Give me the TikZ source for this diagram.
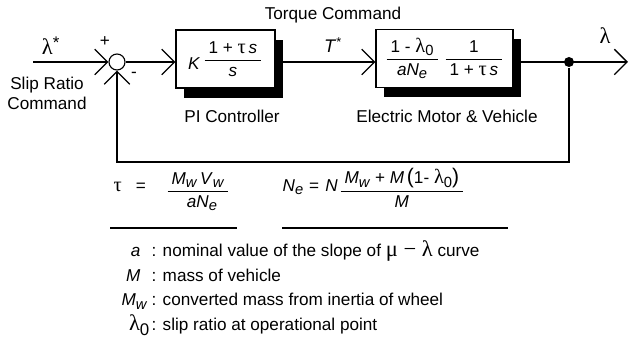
\documentclass[tikz,border=0pt]{standalone}
\usepackage{fontspec}
\setmainfont{Liberation Sans}
\newfontfamily\grk{Liberation Serif}
\usepackage{amsmath}
\usetikzlibrary{arrows.meta,shadows}
\newcommand{\lam}{{\grk\fontsize{14.5}{15}\selectfont λ}}
\newcommand{\ta}{{\grk\fontsize{14.5}{15}\selectfont τ}}
\newcommand{\sub}[1]{\raisebox{-0.35ex}{\fontsize{10.5}{11}\selectfont #1}}
\newcommand{\fr}[2]{\genfrac{}{}{0.7pt}{0}{\text{\hspace{1mm}#1\hspace{1mm}}}{\text{\hspace{1mm}#2\hspace{1mm}}}}

\begin{document}
\begin{tikzpicture}[x=0.25mm, y=-0.25mm, line width=0.9pt,
  every node/.style={font=\fontsize{12.2}{14.6}\selectfont, inner sep=0pt},
  blk/.style={draw, fill=white, line width=0.8pt, minimum height=14.5mm,
    drop shadow={shadow xshift=2mm, shadow yshift=-2.5mm, fill=black, opacity=1}},
  arr/.style={-{Straight Barb[length=3.2mm, width=6.4mm]}}]
  \useasboundingbox (0,0) rectangle (631,344);
  % loop blocks
  \node[circle, draw, line width=0.8pt, minimum size=4mm] (sum) at (117,62) {};
  \node[blk, minimum width=24.75mm] (pi) at (225.5,59)
    {$\text{\raisebox{-1.2mm}{\textit{K}}}\,\fr{1 + \ta\,\textit{s}}{\textit{s}}$};
  \node[blk, minimum width=34.25mm] (plant) at (444.5,58.5)
    {$\fr{1 - \lam\sub{0}}{\textit{a}\textit{N}\sub{\textit{e}}}\;\fr{1}{1 + \ta\,\textit{s}}$};
  \node[circle, fill, minimum size=2.5mm] (tap) at (569,62) {};
  \coordinate (in) at (33,62);
  \coordinate (out) at (628,62);
  \coordinate (fb) at (569,162);
  % connectors
  \draw[arr] (in) -- (sum.west);
  \draw[arr] (sum.east) -- (pi.west |- sum);
  \draw[arr] (pi.east |- sum) -- (plant.west |- sum);
  \draw[arr] (plant.east |- sum) -- (out);
  \draw[arr] (tap) -- (fb) -| (sum.south);
  % signal labels
  \node (lref) at (51,46) {{\grk\fontsize{16}{16}\selectfont λ}\textsuperscript{\fontsize{12}{12}\selectfont *}};
  \node (plus) at (105,42) {+};
  \node (minus) at (134,75) {-};
  \node[align=center, anchor=north] (slip) at (47,76) {Slip Ratio\\Command};
  \node[anchor=base] (torque) at (333,20) {Torque Command};
  \node (tref) at (333,45) {\fontsize{13}{14}\selectfont\textit{T}\textsuperscript{*}};
  \node (lout) at (605,36) {{\grk\fontsize{16}{16}\selectfont λ}};
  \node[anchor=base] (picap) at (232,123) {PI Controller};
  \node[anchor=base] (plcap) at (447,123) {Electric Motor \& Vehicle};
  % parameter formulas
  \node[anchor=base west] (taueq) at (113,196)
    {\raisebox{1.2mm}{\ta\hspace{3.5mm}=}\hspace{5mm}$\fr{\textit{M}\sub{\textit{w}}\,\textit{V}\sub{\textit{w}}}{\hspace{2mm}\textit{a}\textit{N}\sub{\textit{e}}}$};
  \node[anchor=base west] (neeq) at (282,196)
    {\raisebox{1.2mm}{\textit{N}\sub{\textit{e}}\hspace{1.5mm}=\hspace{1.5mm}\textit{N}}\hspace{0.3mm}$\fr{\textit{M}\sub{\textit{w}} + \textit{M}\,{\fontsize{15}{15}\selectfont(}1- \lam\sub{0}{\fontsize{15}{15}\selectfont)}}{\textit{M}}$};
  \draw (110,228) -- (237,228);
  \draw (282,228) -- (508,228);
  % legend
  \foreach \y/\sx/\sym/\txt [count=\i] in {
      257/141/{\textit{a}}/{: nominal value of the slope of {\grk\fontsize{16}{16}\selectfont μ − λ} curve},
      282/141/{\textit{M}}/{: mass of vehicle},
      306/148/{\textit{M}\sub{\textit{w}}}/{: converted mass from inertia of wheel},
      331/150/{{\grk\fontsize{16}{16}\selectfont λ}\raisebox{-0.5ex}{\fontsize{12}{12}\selectfont 0}}/{: slip ratio at operational point}} {
    \node[anchor=base east] (sym\i) at (\sx,\y) {\sym};
    \node[anchor=base west] (txt\i) at (151,\y) {\txt};
  }
\end{tikzpicture}
\end{document}
